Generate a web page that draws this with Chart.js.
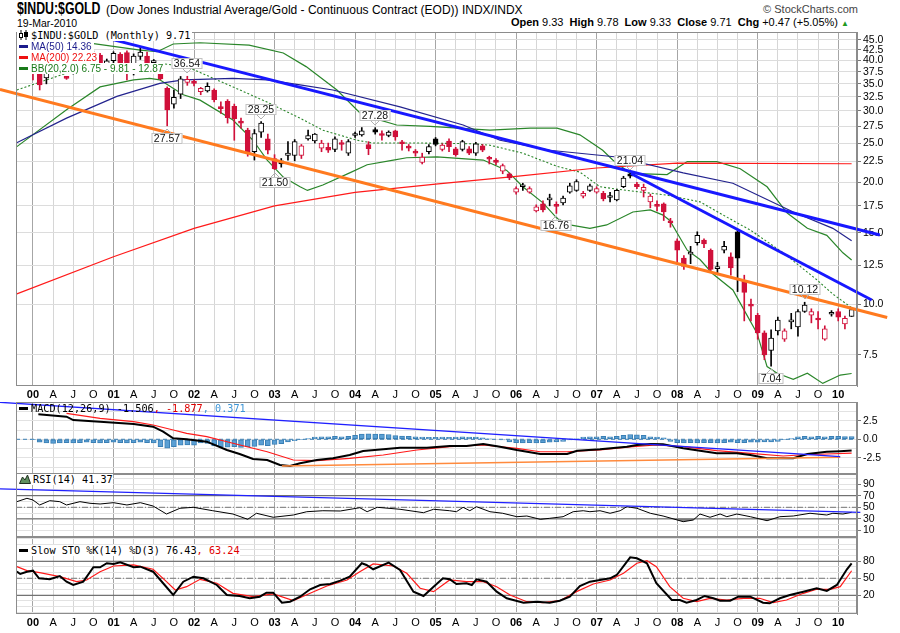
<!DOCTYPE html>
<html lang="en">
<head>
<meta charset="UTF-8">
<title>$INDU:$GOLD</title>
<script src="https://cdn.jsdelivr.net/npm/chart.js@4.4.1/dist/chart.umd.min.js"></script>
<style>
  body { margin: 0; background: #fff; }
  #wrap { position: relative; width: 900px; height: 633px; overflow: hidden; font-family: 'Liberation Sans', Arial, sans-serif; color: #000; }
  #wrap canvas { position: absolute; left: 0; }
  .txt { position: absolute; white-space: nowrap; }
  .mono { font-family: 'DejaVu Sans Mono', monospace; font-size: 10.2px; line-height: 11px; }
  .leg { position: absolute; left: 17px; white-space: nowrap; background: #fff; padding-right: 2px; height: 11px; line-height: 11px; }
  .sans { font-size: 10px; }
  .dash { display: inline-block; width: 9px; height: 3px; vertical-align: middle; margin: 0 3px 2px 2px; }
</style>
</head>
<body>
<div id="wrap">
  <canvas id="cMain" width="900" height="369" style="top:32px"></canvas>
  <canvas id="cMacd" width="900" height="72" style="top:402px"></canvas>
  <canvas id="cRsi" width="900" height="63" style="top:474px"></canvas>
  <canvas id="cSto" width="900" height="92" style="top:537px"></canvas>

  <div class="txt" style="left:17px;top:0px;font-weight:bold;font-size:16px;transform:scaleX(0.77);transform-origin:0 0;">$INDU:$GOLD</div>
  <div class="txt" style="left:106px;top:3px;font-size:12px;">(Dow Jones Industrial Average/Gold - Continuous Contract (EOD)) INDX/INDX</div>
  <div class="txt" style="right:42px;top:3px;font-size:11px;color:#444;">&copy; StockCharts.com</div>
  <div class="txt" style="left:17px;top:17px;font-size:10.5px;">19-Mar-2010</div>
  <div class="txt" style="right:51px;top:16px;font-size:11px;"><b>Open</b> 9.33 &nbsp;<b>High</b> 9.78 &nbsp;<b>Low</b> 9.33 &nbsp;<b>Close</b> 9.71 &nbsp;<b>Chg</b> +0.47 (+5.05%) <span style="color:#1f9a1f;font-size:8px;">&#9650;</span></div>

  <div class="leg mono" style="top:30px;"><svg width="10" height="10" style="vertical-align:-1px;margin:0 2px 0 2px"><path d="M2 0v10M7 0v10" stroke="#000"/><rect x="0.5" y="3.5" width="3" height="4" fill="#fff" stroke="#000"/><rect x="5.5" y="2.5" width="3" height="4" fill="#000" stroke="#000"/></svg>$INDU:$GOLD (Monthly) 9.71</div>
  <div class="leg sans" style="top:41px;color:#1c1c8c;"><span class="dash" style="background:#1c1c8c"></span>MA(50) 14.36</div>
  <div class="leg sans" style="top:52px;color:#ee1111;"><span class="dash" style="background:#ee1111"></span>MA(200) 22.23</div>
  <div class="leg sans" style="top:63px;color:#1a7a1a;"><span class="dash" style="background:#1a7a1a"></span>BB(20,2.0) 6.75 - 9.81 - 12.87</div>

  <div class="txt mono" style="left:17px;top:403px;"><span class="dash" style="background:#000"></span>MACD(12,26,9) -1.506<span style="color:#e00000">, -1.877</span><span style="color:#3d95d6">, 0.371</span></div>
  <div class="txt mono" style="left:17px;top:474px;background:#fff;"><svg width="12" height="10" style="vertical-align:-1px;margin:0 2px 0 2px"><path d="M0.5 9.5 L3.5 3 L6 6 L8.5 1 L11.5 9.5 Z" fill="#5f8f5f" stroke="#203020"/></svg>RSI(14) 41.37</div>
  <div class="txt mono" style="left:17px;top:545px;background:#fff;"><span class="dash" style="background:#000"></span>Slow STO %K(14) %D(3) 76.43<span style="color:#e00000">, 63.24</span></div>
</div>

<script>
// ---- axis labels ----
const yearLabels = ['00','01','02','03','04','05','06','07','08','09','10'];
const quarterLetters = ['', 'A', 'J', 'O'];
const mainTicks = [7.5, 10, 12.5, 15, 17.5, 20, 22.5, 25, 27.5, 30, 32.5, 35, 37.5, 40, 42.5, 45];

// ---- monthly candles, Jan 2000 .. Mar 2010 (index = month number) ----
const openP = [
  39.6, 37.3, 36.2, 39.1, 39.2, 36.3, 37.2, 38.2, 40.4, 39.6,
  41.2, 38.6, 39.9, 41.4, 41.8, 38.3, 40.9, 41.0, 39.5, 38.3,
  34.1, 31.2, 33.0, 35.3, 35.3, 33.5, 33.6, 33.8, 30.6, 31.7,
  30.8, 28.2, 26.9, 23.8, 26.6, 25.6, 22.9, 22.6, 23.3, 23.3,
  23.3, 25.6, 25.3, 24.3, 24.4, 24.1, 25.0, 23.6, 26.1, 26.2,
  24.8, 27.0, 26.2, 26.1, 26.8, 25.0, 24.4, 23.7, 22.4, 23.8,
  25.6, 24.1, 25.3, 24.2, 24.1, 24.2, 23.6, 24.6, 22.9, 22.7,
  21.3, 21.0, 18.9, 19.5, 18.9, 17.0, 17.7, 18.1, 17.5, 17.8,
  18.9, 19.1, 18.5, 19.1, 18.9, 18.8, 18.35, 18.1, 19.5, 21.0,
  19.8, 19.1, 17.9, 17.5, 17.7, 15.95, 14.35, 13.0, 13.3, 14.2,
  14.4, 13.6, 12.25, 13.6, 13.1, 15.1, 11.4, 9.95, 9.4, 8.5,
  7.7, 8.6, 8.2, 9.05, 8.8, 9.6, 9.4, 9.2, 8.2, 9.45,
  9.6, 8.95, 9.33
];
const highP = [
  40.5, 38.5, 39.8, 40.5, 39.8, 36.5, 38.5, 41.0, 41.2, 42.2,
  41.6, 40.3, 42.0, 41.8, 42.2, 41.5, 43.0, 41.9, 40.2, 38.6,
  34.4, 33.8, 36.5, 36.54, 35.8, 34.3, 35.2, 34.0, 31.6, 32.0,
  31.2, 28.8, 27.2, 27.0, 28.25, 26.3, 23.4, 22.9, 25.2, 25.5,
  24.8, 26.9, 26.4, 25.4, 25.0, 25.9, 25.4, 25.5, 26.6, 27.3,
  25.2, 27.28, 26.8, 26.8, 26.9, 25.4, 24.8, 24.1, 23.6, 24.8,
  25.8, 24.9, 25.6, 24.4, 25.4, 24.5, 25.1, 24.8, 23.2, 22.9,
  22.2, 21.1, 19.5, 19.9, 19.5, 17.6, 18.0, 18.7, 17.9, 18.5,
  19.9, 20.3, 19.0, 19.8, 19.5, 19.0, 18.9, 19.2, 20.7, 21.04,
  20.0, 19.8, 18.7, 18.0, 17.8, 16.3, 14.5, 13.2, 13.9, 15.1,
  14.5, 13.7, 12.7, 14.3, 13.4, 15.2, 11.8, 10.3, 9.5, 8.6,
  8.65, 9.3, 8.7, 9.5, 9.7, 10.12, 9.75, 9.6, 8.85, 9.65,
  9.75, 9.35, 9.78
];
const lowP = [
  35.8, 33.8, 35.0, 37.8, 37.5, 35.9, 37.0, 38.0, 38.6, 39.0,
  38.0, 38.2, 39.3, 38.8, 35.8, 36.8, 40.2, 38.5, 39.0, 35.8,
  27.57, 30.5, 32.2, 34.7, 34.6, 32.9, 33.4, 31.6, 29.6, 28.0,
  25.4, 27.2, 23.2, 22.7, 25.8, 23.5, 21.50, 21.8, 22.7, 22.6,
  22.9, 25.4, 25.0, 23.8, 23.7, 23.8, 24.0, 23.3, 25.8, 26.0,
  23.4, 26.3, 25.4, 25.9, 25.4, 24.0, 23.9, 23.2, 22.2, 23.5,
  24.6, 23.9, 23.8, 23.2, 23.9, 23.4, 23.3, 23.8, 22.2, 22.1,
  21.0, 20.3, 18.7, 19.1, 18.8, 16.9, 16.9, 17.5, 16.76, 17.6,
  18.8, 19.0, 18.3, 19.0, 18.8, 18.0, 17.9, 18.0, 19.4, 20.5,
  19.3, 18.4, 17.3, 17.0, 16.1, 15.5, 12.6, 12.2, 12.6, 14.0,
  13.8, 12.0, 11.9, 13.4, 11.8, 10.75, 9.1, 9.1, 8.2, 7.3,
  7.04, 8.4, 8.1, 8.7, 8.35, 9.55, 9.0, 8.7, 8.15, 9.35,
  9.1, 8.7, 9.33
];
const closeP = [
  38.7, 34.8, 39.1, 39.2, 38.5, 36.1, 38.1, 40.5, 39.0, 41.5,
  38.6, 39.9, 41.6, 39.3, 38.3, 41.0, 41.9, 38.8, 39.6, 36.0,
  30.2, 32.4, 36.0, 35.9, 35.1, 34.1, 34.5, 32.0, 30.4, 28.9,
  28.7, 28.0, 23.6, 26.4, 28.0, 24.0, 21.6, 22.2, 23.6, 25.2,
  24.6, 26.1, 26.3, 25.0, 24.0, 25.6, 24.8, 25.2, 26.2, 26.8,
  24.2, 26.6, 26.1, 26.6, 25.9, 24.9, 24.3, 23.6, 23.1, 24.5,
  24.8, 24.7, 24.5, 23.4, 25.2, 23.6, 24.9, 24.0, 22.8, 22.4,
  22.0, 20.5, 19.3, 19.55, 19.3, 17.4, 17.1, 18.2, 17.45, 18.3,
  19.6, 20.1, 18.8, 19.6, 19.3, 18.2, 18.4, 19.1, 20.5, 20.7,
  19.5, 19.45, 18.5, 17.45, 16.9, 15.9, 13.6, 12.4, 13.35, 14.8,
  14.1, 12.2, 12.3, 13.9, 12.3, 13.0, 10.7, 9.9, 8.5, 7.5,
  8.25, 9.15, 8.6, 9.1, 9.6, 9.96, 9.6, 9.15, 8.7, 9.5,
  9.3, 9.24, 9.71
];

// ---- overlays: [month, value] ----
const ma50 = [[-2.5,25.0],[5,28.8],[12.5,32.6],[18.9,35.1],[22.4,35.8],[29.8,36.1],[34.9,35.8],[39.8,34.8],[44.7,33.8],[54.7,30.7],[64.1,27.7],[69.6,25.4],[77,24.0],[87,23.1],[96.9,21.1],[104.3,19.9],[113.3,16.9],[119.2,15.4],[122,14.36]];
const ma200 = [[-2.5,10.6],[12,13.1],[24,15.4],[36,17.5],[48,18.9],[60,19.8],[72,20.7],[84,21.7],[96,22.3],[122,22.23]];
const bbUpper = [[-2.5,43.9],[8.5,44.1],[16,42.4],[18.5,42.0],[20.9,43.9],[24.9,44.2],[32.2,43.6],[37.3,41.7],[40.7,38.6],[45.3,33.8],[48.7,29.7],[50.7,28.8],[54.2,27.7],[59.2,27.5],[68.1,26.9],[74.1,27.2],[78.1,27.2],[81.5,26.2],[84.9,24.0],[86.4,22.7],[89,21.05],[94.5,20.9],[97.5,22.5],[101.9,22.5],[105.4,21.6],[109.4,19.5],[112.4,16.8],[115.4,15.4],[118.3,14.8],[120.7,13.4],[122,12.87]];
const bbMiddle = [[-2.4,33.8],[5,37.2],[10,38.9],[18.9,39.3],[22.9,38.6],[29.8,34.4],[34.8,31.6],[39.8,28.8],[43.2,26.9],[48.3,25.4],[50.7,25.0],[58.1,25.0],[65.6,24.9],[68.1,24.7],[73,23.6],[78.1,21.9],[81.5,21.2],[84.5,19.5],[88.5,19.1],[94.5,18.6],[99.4,17.9],[104.3,16.1],[106.9,15.25],[111.8,13.4],[116.8,11.5],[119.2,10.6],[122,9.81]];
const bbLower = [[-2.4,24.5],[5,30.2],[10,34.4],[15,35.8],[17.4,36.1],[18.9,35.8],[22.4,32.9],[24.9,31.9],[29.8,28.5],[32.8,25.4],[34.9,22.7],[37.3,20.6],[39.8,19.5],[40.9,19.1],[43.2,19.7],[47.2,21.1],[49.8,22.1],[53.7,22.7],[55.7,23.0],[60.2,23.1],[67.1,22.7],[70.6,21.4],[73,19.5],[76,17.8],[78.1,16.3],[80,15.7],[83,15.4],[85.5,15.7],[89.4,16.9],[92,17.1],[93.9,16.6],[94.9,16.1],[97.5,13.6],[99.4,12.9],[101.3,11.9],[104.3,10.85],[105.4,10.07],[107.9,8.49],[109.4,7.02],[110.9,6.76],[113.3,6.53],[115.4,6.76],[117.7,6.38],[120.3,6.69],[122,6.75]];

// hand-drawn trendlines: [month, value]
const trendBlueA = [[11.9,45.0],[126.2,14.83]];
const trendBlueB = [[89.1,21.03],[125.0,10.25]];
const trendOrange = [[-4.92,33.9],[127.3,9.28]];

// high / low call-outs
const calloutMonths = [23, 20, 34, 36, 51, 78, 89, 115, 110];
const calloutValues = [36.54, 27.57, 28.25, 21.50, 27.28, 16.76, 21.04, 10.12, 7.04];
const calloutSides  = ['H', 'L', 'H', 'L', 'H', 'L', 'H', 'H', 'L'];

// ---- MACD(12,26,9) ----
const macdLine = [[0.8,3.38],[5,3.05],[6,2.6],[10,2.38],[15,2.07],[17.9,1.7],[19.4,1.03],[20.9,0.14],[22.9,0],[25.9,-0.32],[28.9,-1.45],[30.8,-1.99],[32.8,-2.66],[34.9,-2.8],[36.8,-3.47],[38.3,-3.6],[39.8,-3.24],[42.3,-2.8],[44.7,-2.57],[47.2,-2.12],[49.2,-1.58],[52.2,-1.35],[54.7,-1.14],[58.7,-1.14],[62.1,-0.9],[64.6,-0.9],[67.1,-0.64],[69.6,-1.0],[72.1,-1.45],[75.6,-1.99],[79.6,-1.99],[81.1,-1.54],[84.5,-1.35],[88.5,-1.0],[90,-0.77],[92,-0.64],[93.9,-0.68],[96.9,-1.22],[99.4,-1.54],[101.9,-1.89],[104.9,-1.89],[106.9,-2.12],[109.4,-2.57],[113.3,-2.57],[115.4,-1.99],[118.3,-1.68],[120.3,-1.6],[122,-1.506]];
const macdSignal = [[5,3.51],[10,2.84],[15,2.38],[17.9,1.93],[20.9,1.26],[22.9,0.81],[25.9,0.35],[29.8,-0.54],[34.9,-1.68],[38.8,-2.8],[42.3,-2.89],[47.2,-2.57],[52.2,-2.12],[57.2,-1.45],[62.1,-1.0],[67.1,-0.77],[72.1,-1.22],[75.6,-1.68],[79.6,-1.68],[84.5,-1.45],[89.4,-1.0],[92.9,-0.77],[96.9,-1.0],[101.9,-1.54],[106.9,-1.89],[111.8,-2.26],[114.3,-2.12],[118.3,-1.99],[122,-1.877]];
const macdHist = [
  -0.05,-0.4,-0.5,-0.55,-0.5,-0.45,-0.5,-0.45,-0.4,-0.45,
  -0.5,-0.45,-0.4,-0.45,-0.5,-0.45,-0.4,-0.45,-0.5,-1.0,
  -1.2,-1.0,-0.8,-0.75,-0.8,-0.5,-0.55,-0.9,-1.0,-1.05,
  -1.0,-1.1,-1.0,-0.95,-0.8,-0.85,-0.7,-0.6,-0.35,-0.2,
  -0.05,0.1,0.3,0.35,0.35,0.4,0.35,0.4,0.55,0.7,
  0.75,0.7,0.7,0.65,0.5,0.45,0.4,0.35,0.3,0.25,
  0.25,0.3,0.25,0.3,0.35,0.3,0.3,0.2,0.05,0,
  -0.1,-0.35,-0.45,-0.5,-0.45,-0.5,-0.45,-0.4,-0.35,-0.3,
  -0.1,0.05,0.3,0.35,0.35,0.4,0.35,0.4,0.55,0.65,
  0.6,0.55,0.35,0.3,0.2,-0.3,-0.45,-0.5,-0.45,-0.5,
  -0.45,-0.45,-0.5,-0.45,-0.4,-0.45,-0.45,-0.4,-0.4,-0.35,
  -0.35,-0.3,-0.05,0.1,0.35,0.4,0.35,0.4,0.35,0.4,
  0.4,0.38,0.371
];
const macdTrendBlue = [[-4.92,5.0],[120.3,-2.35]];
const macdTrendOrange = [[37.1,-3.61],[120.3,-2.43]];

// ---- RSI(14) ----
const rsi = [[-2.4,59.7],[-0.9,65.5],[0,62.6],[1,54],[2.5,61.4],[4,59.7],[5,54],[7,59.7],[8.5,56.9],[10,55.7],[12,58],[14,54],[16,58],[17.9,52.2],[19.9,38.4],[21.9,48.3],[23.9,50],[26.8,44.1],[29.8,38.4],[32,29.3],[33.3,39.7],[35.8,32.8],[38.8,36.7],[40.8,42.4],[43.2,44.1],[45.8,43.6],[48.7,49.3],[49.8,42.4],[51.3,50],[54.7,46.6],[58.2,40.7],[59.7,46.6],[62.1,44.1],[63.1,42.4],[64.1,50],[65.1,44.1],[66.1,51],[68.1,42.4],[70,39.7],[72.1,33.8],[73.6,35],[75.6,29.3],[77,31],[79,33.8],[80.5,42.4],[82,44.1],[83,42.4],[84.5,44.1],[86,39.7],[87.5,44.1],[88.5,51],[90,48.3],[92,39.7],[93.9,35],[96.9,25.2],[98.4,28.1],[99.4,38.4],[100.9,32.8],[102.4,38.4],[103.4,33.8],[104.9,38.4],[106.9,33.8],[109.4,26.9],[111.3,33.8],[113.3,35],[115.8,39.7],[118.3,36.7],[119.2,39.7],[120.7,38.4],[122,41.37]];
const rsiTrend = [[-4.92,81.6],[123.3,41.4]];

// ---- Slow STO %K(14) %D(3) ----
const stoK = [[-2.4,61.6],[-1.9,57.6],[-0.9,61.6],[0,63.4],[0.9,50],[2.5,48.2],[4,54],[5,44],[6,38.2],[7.5,44],[9,69.4],[10,69.4],[11,76.5],[12,75.2],[13,78.2],[15,69.4],[16,70.5],[17.9,61.6],[19.4,41.2],[20.9,20.5],[22.4,44],[23.9,52.8],[25.4,50],[27.4,38.2],[28.9,20.5],[30.8,18.8],[32.3,14.7],[33.8,17.5],[34.8,24.6],[35.8,24.6],[37.1,7],[38.3,8.7],[39.8,17.5],[41.3,30.6],[42.8,38.2],[44.3,40],[45.8,45.8],[47.2,52.8],[49,76.5],[49.7,73.5],[50.7,65.9],[53,77.5],[54.7,64.6],[56.7,26.4],[58.2,18.8],[59.7,35.2],[61.1,50],[62.1,48.2],[63.1,40],[64.6,41.2],[65.4,38.2],[66.1,48.2],[67.6,44],[69.1,26.4],[70.6,14.7],[73.1,7],[75.1,8.7],[77,7],[78.5,10.5],[80,17.5],[81.5,36.4],[83,44],[84.5,47],[86,50],[87,55.8],[89,87],[90,85.3],[91.5,76.5],[92.9,41.2],[95.2,11.7],[96.4,11.7],[97.4,7],[98.9,11.7],[100.1,18.8],[101.4,14.7],[102.4,10.5],[103.9,10.5],[105.1,17.5],[106.9,17.5],[108.8,7],[109.8,5.9],[111.3,14.7],[112.8,20.5],[114.8,26.4],[116.8,32.4],[118.3,27.6],[119.8,38.2],[121.3,65.9],[122,76.43]];
const stoD = [[-2.4,70.5],[-0.9,63.4],[1,59.9],[4,52.8],[6.5,44],[8,47],[10,61.6],[12,71.7],[15,73.5],[17.9,65.9],[19.9,44],[21.2,29.4],[22.9,35.2],[24.9,48.2],[27.4,41.2],[29.8,23.5],[32.8,17.5],[35.8,22.3],[38.8,10.5],[41.3,23.5],[43.8,36.4],[46.8,47],[48.7,61.6],[50.7,75.2],[53.7,71.7],[55.7,58.8],[57.7,32.4],[59.7,26.4],[62.1,47],[64.6,44],[67.1,44],[69.1,35.2],[71.1,20.5],[73.6,8.7],[76,7],[78.5,10.5],[81,26.4],[83.5,40],[86,47],[88,58.8],[90,76.5],[91.5,81],[92.9,70.5],[94.9,35.2],[96.9,14.7],[98.9,8.7],[100.9,14.7],[103.4,11.7],[105.9,14.7],[108.3,14.7],[110.3,7],[112.3,11.7],[114.8,23.5],[116.8,30.6],[118.8,30.6],[120.3,35.2],[122,63.24]];

// ---------------------------------------------------------------
const RED = '#d0103a', BLACK = '#000000';
const xMin = -2.53, xMax = 122.8;
Chart.defaults.font.family = "'Liberation Sans', Arial, sans-serif";
Chart.defaults.animation = false;
Chart.defaults.plugins.legend.display = false;
Chart.defaults.plugins.tooltip.enabled = false;

const tickMonths = yearLabels.flatMap((y, k) => [0, 3, 6, 9].map(q => k * 12 + q)).filter(m => m <= xMax);
const idx = closeP.map((_, i) => i);
const candleColor = idx.map(i => closeP[i] >= (i ? closeP[i - 1] : openP[i]) ? BLACK : RED);
const candleFill = idx.map(i => closeP[i] < openP[i] ? candleColor[i] : '#ffffff');

function pts(arr) { return arr.map(p => ({ x: p[0], y: p[1] })); }
function series(arr, color, width, extra) {
  return Object.assign({ type: 'line', data: pts(arr), borderColor: color, borderWidth: width,
    pointRadius: 0, fill: false, tension: 0 }, extra || {});
}
function hline(v, color, dash) {
  return series([[xMin, v], [xMax, v]], color, 1, { borderDash: dash || [], order: 5 });
}
// keep the plot box exactly where the layout puts it (no label overhang padding)
function fitY(s) { s.width = 43; s.paddingTop = 0; s.paddingBottom = 0; }

function xAxis(showLabels) {
  return {
    type: 'linear', min: xMin, max: xMax, bounds: 'data', offset: false,
    afterBuildTicks: s => { s.ticks = tickMonths.map(v => ({ value: v })); },
    afterFit: s => { s.height = showLabels ? 15 : 0; s.paddingLeft = 0; s.paddingRight = 0; },
    grid: { offset: false, drawTicks: false,
            color: c => (c.tick && c.tick.value % 12 === 0) ? '#a6a6a6' : '#d6d6d6' },
    border: { display: false },
    ticks: {
      display: showLabels, autoSkip: false, maxRotation: 0, padding: 2, color: '#000',
      font: c => ({ size: 11, weight: (c.tick && c.tick.value % 12 === 0) ? 'bold' : 'normal' }),
      callback: v => v % 12 === 0 ? yearLabels[v / 12] : quarterLetters[(v % 12) / 3]
    }
  };
}
function yLin(min, max, gridVals, labelVals, fmt) {
  return {
    type: 'linear', position: 'right', min: min, max: max, bounds: 'data',
    afterBuildTicks: s => { s.ticks = gridVals.map(v => ({ value: v })); },
    afterFit: fitY,
    grid: { color: '#e2e2e2', tickLength: 4,
            tickColor: c => (c.tick && labelVals.includes(c.tick.value)) ? '#777' : 'rgba(0,0,0,0)' },
    border: { display: true, color: '#8c8c8c' },
    ticks: { autoSkip: false, padding: 2, color: '#000', font: { size: 10.5 },
             callback: v => labelVals.includes(v) ? fmt(v) : '' }
  };
}

const framePlugin = {
  id: 'frame',
  afterDraw(chart) {
    const a = chart.chartArea, ctx = chart.ctx;
    ctx.save();
    ctx.strokeStyle = '#8c8c8c'; ctx.lineWidth = 1;
    ctx.strokeRect(a.left + 0.5, a.top + 0.5, a.right - a.left - 1, a.bottom - a.top - 1);
    ctx.restore();
  }
};

const calloutPlugin = {
  id: 'callouts',
  afterDraw(chart) {
    const ctx = chart.ctx, xs = chart.scales.x, ys = chart.scales.y;
    ctx.save();
    ctx.font = '10.5px "Liberation Sans", Arial, sans-serif';
    ctx.textAlign = 'center'; ctx.textBaseline = 'middle';
    calloutMonths.forEach((m, k) => {
      const v = calloutValues[k], up = calloutSides[k] === 'H';
      const px = Math.round(xs.getPixelForValue(m)), py = ys.getPixelForValue(v);
      const txt = v.toFixed(2);
      const w = Math.round(ctx.measureText(txt).width + 5), h = 11;
      const top = Math.round(up ? py - 7 - h : py + 7);
      ctx.fillStyle = '#fff'; ctx.strokeStyle = '#c2c2c2'; ctx.lineWidth = 1;
      ctx.fillRect(px - w / 2, top, w, h);
      ctx.strokeRect(px - w / 2 + 0.5, top + 0.5, w - 1, h - 1);
      ctx.beginPath();
      if (up) { ctx.moveTo(px - 4, top + h); ctx.lineTo(px, top + h + 4); ctx.lineTo(px + 4, top + h); }
      else { ctx.moveTo(px - 4, top); ctx.lineTo(px, top - 4); ctx.lineTo(px + 4, top); }
      ctx.strokeStyle = '#b0b0b0'; ctx.stroke();
      ctx.fillStyle = '#111';
      ctx.fillText(txt, px, top + h / 2 + 0.5);
    });
    ctx.restore();
  }
};

const commonOpts = {
  responsive: false, devicePixelRatio: 1,
  layout: { padding: { left: 16, right: 0, top: 0, bottom: 0 }, autoPadding: false },
  plugins: { legend: { display: false }, tooltip: { enabled: false } },
  events: []
};

// ---- price panel ----
new Chart(document.getElementById('cMain'), {
  type: 'bar',
  data: {
    datasets: [
      series(trendBlueA, '#1818ff', 3, { clip: false, order: 0 }),
      series(trendBlueB, '#1818ff', 3, { clip: false, order: 0 }),
      series(trendOrange, '#ff7a1f', 3, { clip: false, order: 0 }),
      { type: 'bar', data: idx.map(i => ({ x: i, y: [openP[i], closeP[i]] })),
        backgroundColor: candleFill, borderColor: candleColor, borderWidth: 1, borderSkipped: false,
        barThickness: 5, grouped: false, minBarLength: 2, order: 1 },
      { type: 'bar', data: idx.map(i => ({ x: i, y: [lowP[i], highP[i]] })),
        backgroundColor: candleColor, borderWidth: 0, borderSkipped: false,
        barThickness: 1, grouped: false, order: 2 },
      series(ma50, '#23238e', 1.2, { order: 3 }),
      series(ma200, '#ff1a1a', 1.2, { order: 3 }),
      series(bbUpper, '#2a862a', 1.2, { order: 3 }),
      series(bbLower, '#2a862a', 1.2, { order: 3 }),
      series(bbMiddle, '#2a862a', 1.1, { order: 3, borderDash: [2, 2] })
    ]
  },
  options: Object.assign({}, commonOpts, {
    scales: {
      x: xAxis(true),
      y: {
        type: 'logarithmic', position: 'right', min: 6.287, max: 46.99, bounds: 'data',
        afterBuildTicks: s => { s.ticks = mainTicks.map(v => ({ value: v })); },
        afterFit: fitY,
        grid: { color: '#dcdcdc', tickLength: 4, tickColor: '#777' },
        border: { display: true, color: '#8c8c8c' },
        ticks: { autoSkip: false, padding: 2, color: '#000', font: { size: 10.5 }, callback: v => Number(v).toFixed(1) }
      }
    }
  }),
  plugins: [framePlugin, calloutPlugin]
});

// ---- MACD panel ----
new Chart(document.getElementById('cMacd'), {
  type: 'bar',
  data: {
    datasets: [
      series(macdTrendBlue, '#2020ff', 1.3, { clip: false, order: 0 }),
      series(macdTrendOrange, '#ff8a3d', 1.6, { clip: false, order: 0 }),
      series(macdLine, '#000', 2, { order: 1 }),
      series(macdSignal, '#ff1a1a', 1.2, { order: 1 }),
      { type: 'bar', data: macdHist.map((h, i) => ({ x: i, y: h })),
        backgroundColor: '#5a9fd4', borderColor: '#3a7fb4', borderWidth: 1, borderSkipped: false,
        barThickness: 5, grouped: false, order: 3 },
      series([[xMin, 0], [xMax, 0]], '#3a7fb4', 1, { borderDash: [4, 3], order: 4 })
    ]
  },
  options: Object.assign({}, commonOpts, {
    scales: {
      x: xAxis(false),
      y: yLin(-4.69, 5.04, [-3.75, -2.5, -1.25, 0, 1.25, 2.5, 3.75, 5], [-2.5, 0, 2.5], v => v.toFixed(1))
    }
  }),
  plugins: [framePlugin]
});

// ---- RSI panel ----
new Chart(document.getElementById('cRsi'), {
  type: 'line',
  data: {
    datasets: [
      series(rsiTrend, '#2020ff', 1.3, { clip: false, order: 0 }),
      series(rsi, '#000', 1, { order: 1, fill: { target: { value: 30 }, above: 'rgba(0,0,0,0)', below: 'rgba(100,100,100,0.75)' } }),
      hline(70, '#555'), hline(30, '#555'), hline(50, '#777', [6, 2, 1, 2])
    ]
  },
  options: Object.assign({}, commonOpts, {
    scales: {
      x: xAxis(false),
      y: yLin(-1.2, 107.4, [0, 10, 20, 30, 40, 50, 60, 70, 80, 90, 100], [10, 30, 50, 70, 90], v => String(v))
    }
  }),
  plugins: [framePlugin]
});

// ---- Slow stochastic panel ----
new Chart(document.getElementById('cSto'), {
  type: 'line',
  data: {
    datasets: [
      series(stoK, '#000', 2, { order: 0 }),
      series(stoD, '#ff1a1a', 1.2, { order: 1 }),
      hline(80, '#555'), hline(20, '#555'), hline(50, '#777', [6, 2, 1, 2])
    ]
  },
  options: Object.assign({}, commonOpts, {
    scales: {
      x: xAxis(true),
      y: yLin(-13, 122.8, [-10, 0, 10, 20, 30, 40, 50, 60, 70, 80, 90, 100, 110, 120], [20, 50, 80], v => String(v))
    }
  }),
  plugins: [framePlugin]
});
</script>
</body>
</html>
